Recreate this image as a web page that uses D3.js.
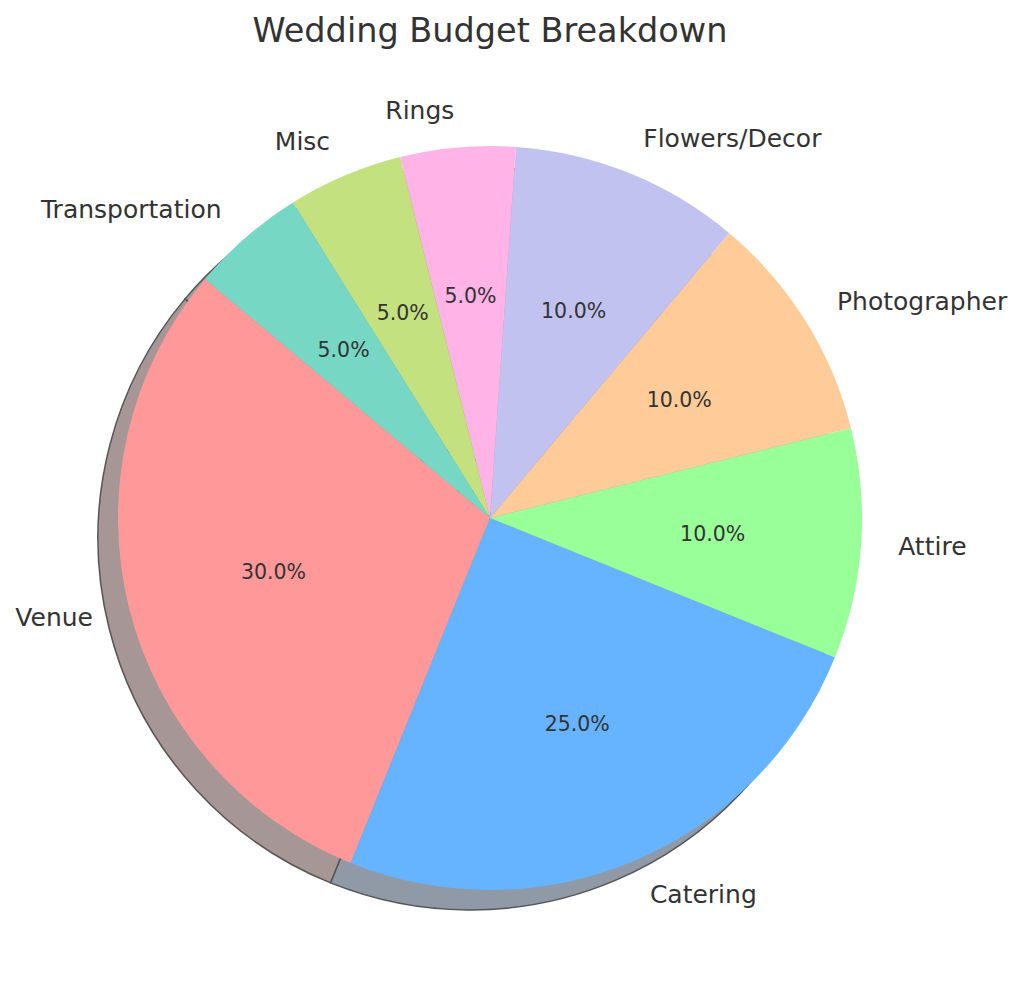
<!DOCTYPE html>
<html>
<head>
<meta charset="utf-8">
<script src="https://cdn.jsdelivr.net/npm/d3@7"></script>
<style>
  body { margin: 0; background: #fff; }
  text { font-family: "DejaVu Sans", sans-serif; fill: #333; }
</style>
</head>
<body>
<div id="chart"></div>
<script>
const categories = ["Venue", "Catering", "Attire", "Photographer", "Flowers/Decor", "Rings", "Misc", "Transportation"];
const shares = [30, 25, 10, 10, 10, 5, 5, 5];
const colors = ["#ff9999", "#66b3ff", "#99ff99", "#ffcc99", "#c2c2f0", "#ffb3e6", "#c4e17f", "#76d7c4"];
const title = "Wedding Budget Breakdown";

const width = 1024, height = 999;
const cx = 490, cy = 518, radius = 372;
const startAngle = 140; // degrees, counter-clockwise like matplotlib

const svg = d3.select("#chart")
  .append("svg")
  .attr("width", width)
  .attr("height", height);

svg.append("text")
  .attr("x", cx)
  .attr("y", 42)
  .attr("text-anchor", "middle")
  .style("font-size", "33.5px")
  .text(title);

const data = categories.map((c, i) => ({ name: c, value: shares[i], color: colors[i] }));

// matplotlib goes ccw from startAngle; d3 angles are clockwise from 12 o'clock
const toD3 = deg => (90 - deg) * Math.PI / 180;
const total = d3.sum(shares);
let acc = 0;
const slices = data.map(d => {
  const a0 = startAngle + acc / total * 360;
  acc += d.value;
  const a1 = startAngle + acc / total * 360;
  return { ...d, a0, a1, mid: (a0 + a1) / 2 };
});

const arc = d3.arc()
  .innerRadius(0)
  .outerRadius(radius)
  .startAngle(d => toD3(d.a1))
  .endAngle(d => toD3(d.a0));

// shadow: darkened wedge colour, half transparent
const shadowColor = c => {
  const rgb = d3.rgb(c);
  return d3.rgb(255 - 0.5 * (255 - rgb.r * 0.3), 255 - 0.5 * (255 - rgb.g * 0.3), 255 - 0.5 * (255 - rgb.b * 0.3));
};
const shadow = svg.append("g").attr("transform", `translate(${cx - 20},${cy + 20})`);
shadow.selectAll("path")
  .data(slices)
  .join("path")
  .attr("d", arc)
  .attr("fill", d => shadowColor(d.color))
  .attr("stroke", "#555")
  .attr("stroke-width", 1.5);

const pie = svg.append("g").attr("transform", `translate(${cx},${cy})`);
pie.selectAll("path")
  .data(slices)
  .join("path")
  .attr("d", arc)
  .attr("fill", d => d.color);

const rad = deg => deg * Math.PI / 180;

// category labels
pie.selectAll("text.label")
  .data(slices)
  .join("text")
  .attr("class", "label")
  .attr("x", d => 1.1 * radius * Math.cos(rad(d.mid)))
  .attr("y", d => -1.1 * radius * Math.sin(rad(d.mid)))
  .attr("dy", "0.35em")
  .attr("text-anchor", d => Math.cos(rad(d.mid)) > 0 ? "start" : "end")
  .style("font-size", "25px")
  .text(d => d.name);

// percentages
pie.selectAll("text.pct")
  .data(slices)
  .join("text")
  .attr("class", "pct")
  .attr("x", d => 0.6 * radius * Math.cos(rad(d.mid)))
  .attr("y", d => -0.6 * radius * Math.sin(rad(d.mid)))
  .attr("dy", "0.35em")
  .attr("text-anchor", "middle")
  .style("font-size", "20.5px")
  .text(d => (d.value / total * 100).toFixed(1) + "%");
</script>
</body>
</html>
